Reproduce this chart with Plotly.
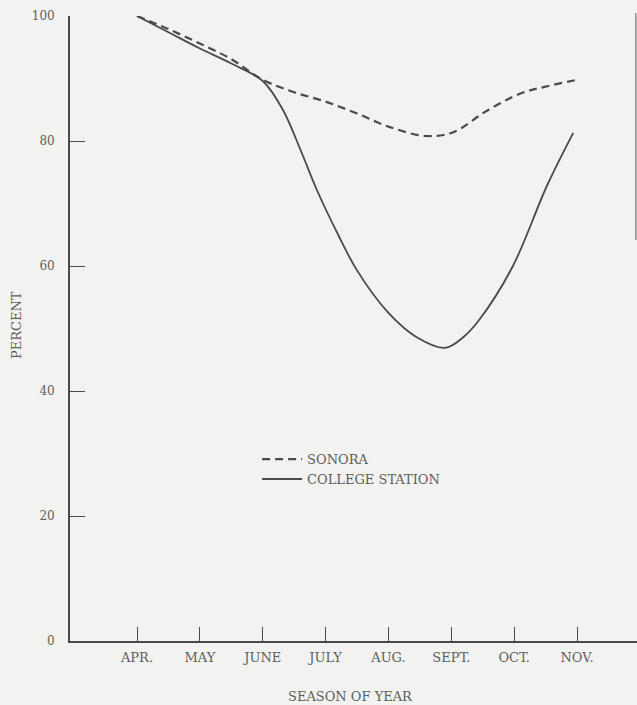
import plotly.graph_objects as go

# Month positions (0 = APR ... 7 = NOV) and tick labels
month_ticks = [0, 1, 2, 3, 4, 5, 6, 7]
month_labels = ["APR.", "MAY", "JUNE", "JULY", "AUG.", "SEPT.", "OCT.", "NOV."]

# Sonora (dashed) readings
sonora_x = [0, 0.5, 1, 1.5, 2, 2.5, 3, 3.5, 4, 4.6, 5.03, 5.56, 6.1, 6.5, 7]
sonora_y = [100, 97.9, 95.6, 93.1, 89.8, 87.8, 86.3, 84.4, 82.3, 80.8, 81.4, 84.8, 87.6, 88.7, 89.8]

# College Station (solid) readings
college_x = [0, 0.5, 1, 1.5, 2, 2.32, 2.6, 2.86, 3.2, 3.5, 4, 4.45, 4.9, 5.19, 5.46, 5.98, 6.52, 6.94]
college_y = [100, 97.4, 94.8, 92.4, 89.6, 85.0, 78.6, 72.2, 65.0, 59.3, 52.5, 48.6, 46.9, 48.6, 51.6, 60.0, 72.8, 81.3]

y_ticks = [0, 20, 40, 60, 80, 100]

FONT = "DejaVu Serif, Liberation Serif, serif"
LINE = "#4a4a4a"
TEXT = "#5e5e5e"

fig = go.Figure()
fig.add_trace(go.Scatter(
    x=sonora_x, y=sonora_y, mode="lines", name="SONORA",
    line=dict(color=LINE, width=2.2, dash="8px,5px", shape="spline", smoothing=1.0),
))
fig.add_trace(go.Scatter(
    x=college_x, y=college_y, mode="lines", name="COLLEGE STATION",
    line=dict(color=LINE, width=1.8, shape="spline", smoothing=1.0),
))

fig.update_layout(
    width=637, height=705,
    margin=dict(l=70, r=0, t=16, b=64),
    paper_bgcolor="#f2f2f0", plot_bgcolor="#f2f2f0",
    font=dict(family=FONT, color=TEXT, size=12),
    showlegend=True,
    legend=dict(
        x=0.33, y=0.315, xanchor="left", yanchor="top",
        bgcolor="rgba(0,0,0,0)", font=dict(family=FONT, size=13, color=TEXT),
        itemwidth=40, tracegroupgap=0,
    ),
    xaxis=dict(
        range=[-1.066, 7.954], tickmode="array", tickvals=month_ticks, ticktext=month_labels,
        ticks="inside", ticklen=14, tickwidth=1.2, tickcolor=LINE,
        showline=True, linecolor=LINE, linewidth=1.8, showgrid=False, zeroline=False,
        tickfont=dict(family=FONT, size=13, color=TEXT), ticklabelstandoff=3,
    ),
    yaxis=dict(
        range=[0, 100], tickmode="array", tickvals=y_ticks,
        ticks="inside", ticklen=15, tickwidth=1.2, tickcolor=LINE,
        showline=True, linecolor=LINE, linewidth=1.8, showgrid=False, zeroline=False,
        tickfont=dict(family=FONT, size=12, color=TEXT), ticklabelstandoff=11,
    ),
    annotations=[
        dict(text="PERCENT", xref="paper", yref="paper", x=-0.0935, y=0.5056,
             xanchor="center", yanchor="middle", textangle=-90, showarrow=False,
             font=dict(family=FONT, size=13, color=TEXT)),
        dict(text="SEASON OF YEAR", xref="paper", yref="paper", x=0.494, y=-0.0896,
             xanchor="center", yanchor="middle", showarrow=False,
             font=dict(family=FONT, size=13, color=TEXT)),
    ],
    shapes=[
        dict(type="line", xref="paper", yref="paper", x0=0.998, x1=0.998,
             y0=(641 - 13) / 625, y1=(641 - 240) / 625,
             line=dict(color="#8a8a8a", width=1.5)),
    ],
)

fig.write_html("out.html", config={"displayModeBar": False},
               post_script="document.body.style.margin='0';document.body.style.overflow='hidden';")
